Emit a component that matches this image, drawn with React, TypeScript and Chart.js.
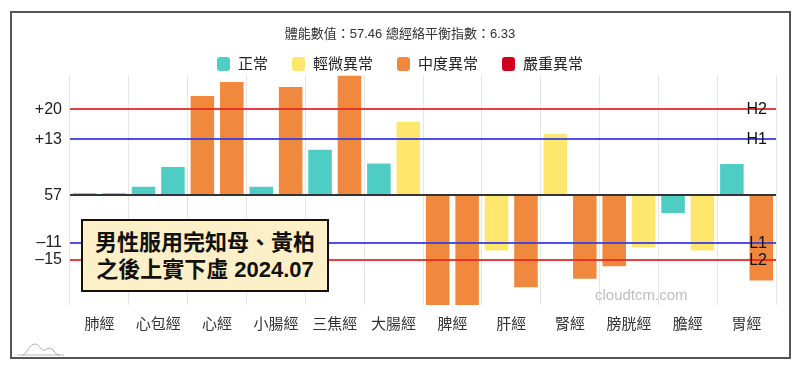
import React, { useEffect, useRef } from 'react';
import { Chart, registerables } from 'chart.js';

Chart.register(...registerables);

const FONT = "'Liberation Sans', 'Noto Sans CJK TC', sans-serif";

const titleText = '體能數值：57.46 總經絡平衡指數：6.33';
const categories = ['肺經', '心包經', '心經', '小腸經', '三焦經', '大腸經', '脾經', '肝經', '腎經', '膀胱經', '膽經', '胃經'];
const leftValues = [0.5, 2.0, 23.1, 2.0, 10.6, 7.4, -25.5, -12.8, 14.3, -16.5, -4.1, 7.3];
const rightValues = [0.5, 6.6, 26.4, 25.2, 27.8, 17.1, -25.5, -21.4, -19.4, -12.1, -12.8, -19.8];
// 0 = 正常, 1 = 輕微異常, 2 = 中度異常, 3 = 嚴重異常
const leftStatus = [0, 0, 2, 0, 0, 0, 2, 1, 1, 2, 0, 0];
const rightStatus = [0, 0, 2, 2, 2, 1, 2, 2, 2, 1, 1, 2];
const statusLabels = ['正常', '輕微異常', '中度異常', '嚴重異常'];
const statusColors = ['#4ECDC4', '#FFE66D', '#F0883E', '#D0021B'];

const yMin = -25.5;
const yMax = 28;
const yTickValues = [20, 13, 0, -11, -15];
const yTickLabels = ['+20', '+13', '57', '–11', '–15'];

const refLineValues = [20, 13, 0, -11, -15];
const refLineLabels = ['H2', 'H1', '', 'L1', 'L2'];
const refLineColors = ['rgba(232,40,40,0.9)', 'rgba(60,60,228,0.9)', '#333333', 'rgba(60,60,228,0.9)', 'rgba(232,40,40,0.9)'];

const noteLines = ['男性服用完知母、黃柏', '之後上實下虛 2024.07'];
const watermarkText = 'cloudtcm.com';

const refLinePlugin = {
  id: 'refLines',
  afterDatasetsDraw(chart: any) {
    const { ctx, chartArea } = chart;
    const y = chart.scales.y;
    refLineValues.forEach((v, i) => {
      const py = Math.round(y.getPixelForValue(v));
      ctx.save();
      ctx.strokeStyle = refLineColors[i];
      ctx.lineWidth = 2;
      ctx.beginPath();
      ctx.moveTo(chartArea.left, py);
      ctx.lineTo(chartArea.right, py);
      ctx.stroke();
      if (refLineLabels[i]) {
        ctx.fillStyle = '#111';
        ctx.font = `16px ${FONT}`;
        ctx.textAlign = 'right';
        ctx.textBaseline = 'middle';
        ctx.fillText(refLineLabels[i], chartArea.right - 9, py + 1);
      }
      ctx.restore();
    });
  },
};

export default function App() {
  const canvasRef = useRef<HTMLCanvasElement | null>(null);

  useEffect(() => {
    if (!canvasRef.current) return;
    const chart = new Chart(canvasRef.current, {
      type: 'bar',
      data: {
        labels: categories,
        datasets: [
          {
            data: leftValues,
            backgroundColor: leftStatus.map((s) => statusColors[s]),
            borderWidth: 0,
            categoryPercentage: 1,
            barPercentage: 0.8,
          },
          {
            data: rightValues,
            backgroundColor: rightStatus.map((s) => statusColors[s]),
            borderWidth: 0,
            categoryPercentage: 1,
            barPercentage: 0.8,
          },
        ],
      },
      options: {
        responsive: false,
        animation: false,
        layout: { padding: { left: 24, right: 24, top: 0, bottom: 0 } },
        plugins: {
          legend: { display: false },
          tooltip: { enabled: false },
          title: {
            display: true,
            text: titleText,
            color: '#333',
            font: { size: 13, family: FONT, weight: 'normal' },
            padding: { top: 27, bottom: 32.4 },
          },
        },
        scales: {
          x: {
            grid: { color: '#e6e6e6', drawTicks: false, offset: true },
            border: { display: false },
            ticks: { font: { size: 15, family: FONT }, color: '#333', padding: 11, maxRotation: 0, autoSkip: false },
            afterFit: (s: any) => {
              s.height = 65;
            },
          },
          y: {
            min: yMin,
            max: yMax,
            grid: { display: false, drawTicks: false },
            border: { display: false },
            ticks: {
              font: { size: 16, family: FONT },
              color: '#222',
              padding: 8,
              callback: (value: any) => {
                const i = yTickValues.indexOf(Number(value));
                return i >= 0 ? yTickLabels[i] : '';
              },
            },
            afterBuildTicks: (s: any) => {
              s.ticks = yTickValues.map((v) => ({ value: v }));
            },
            afterFit: (s: any) => {
              s.width = 46;
            },
          },
        },
      } as any,
      plugins: [refLinePlugin],
    });
    return () => chart.destroy();
  }, []);

  return (
    <div style={{ position: 'fixed', left: 0, top: 0, width: 800, height: 370, background: '#fff', fontFamily: FONT }}>
      <canvas ref={canvasRef} width={800} height={370} style={{ position: 'absolute', left: 0, top: 0, width: 800, height: 370 }} />
      <div
        style={{
          position: 'absolute',
          left: 10,
          top: 11,
          width: 781,
          height: 348,
          boxSizing: 'border-box',
          border: '2px solid #555',
          pointerEvents: 'none',
        }}
      />
      <div
        style={{
          position: 'absolute',
          left: 0,
          top: 56,
          width: 800,
          display: 'flex',
          justifyContent: 'center',
          alignItems: 'center',
          gap: 24,
        }}
      >
        {statusLabels.map((label, i) => (
          <div key={label} style={{ display: 'flex', alignItems: 'center' }}>
            <span
              style={{
                display: 'inline-block',
                width: 13,
                height: 14,
                borderRadius: 3,
                background: statusColors[i],
                marginRight: 8,
              }}
            />
            <span style={{ fontSize: 15, lineHeight: '15px', color: '#222' }}>{label}</span>
          </div>
        ))}
      </div>
      <div
        style={{
          position: 'absolute',
          left: 81,
          top: 219,
          width: 248,
          height: 73,
          boxSizing: 'border-box',
          border: '2px solid #111',
          background: '#FDF0C8',
          display: 'flex',
          flexDirection: 'column',
          justifyContent: 'center',
          alignItems: 'center',
          fontSize: 22,
          fontWeight: 'bold',
          lineHeight: '27px',
          color: '#111',
          whiteSpace: 'nowrap',
        }}
      >
        {noteLines.map((t) => (
          <div key={t}>{t}</div>
        ))}
      </div>
      <div style={{ position: 'absolute', left: 595, top: 286, fontSize: 15, lineHeight: '18px', color: '#bdbdbd' }}>
        {watermarkText}
      </div>
      <svg style={{ position: 'absolute', left: 16, top: 338 }} width={50} height={20} viewBox="0 0 50 20">
        <path d="M1 17 H48" stroke="#bbb" strokeWidth={1} fill="none" />
        <path
          d="M6 17 C 11 17, 13 6, 19 6 C 24 6, 25 14, 29 12 C 32 10, 34 9, 37 12 C 39 15, 41 17, 44 17"
          stroke="#aaa"
          strokeWidth={1}
          fill="none"
        />
      </svg>
    </div>
  );
}
